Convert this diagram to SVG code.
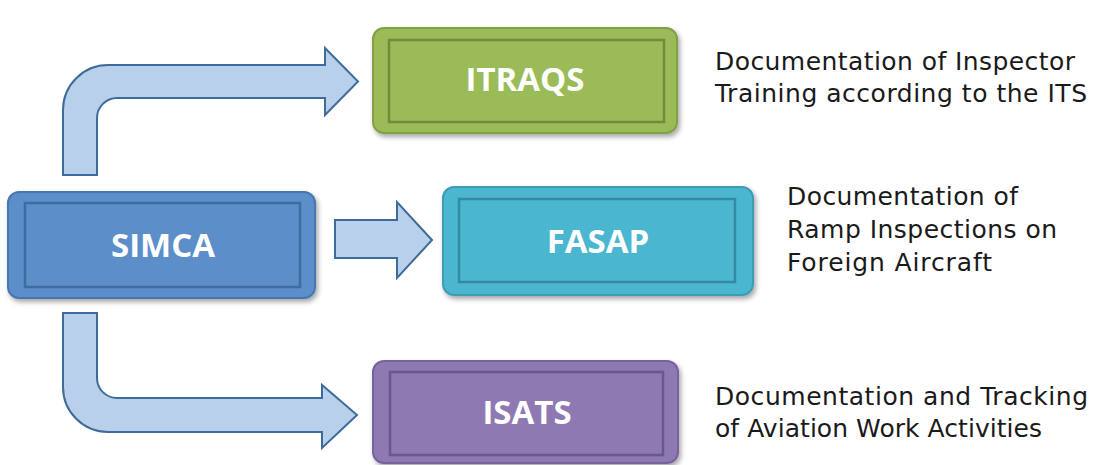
<svg xmlns="http://www.w3.org/2000/svg" width="1099" height="465" viewBox="0 0 1099 465">
  <defs>
    <filter id="shadow" x="-10%" y="-10%" width="125%" height="130%">
      <feDropShadow dx="2" dy="3" stdDeviation="2.5" flood-color="#000" flood-opacity="0.35"/>
    </filter>
    <style>
      .arrow { fill: #b8d0ea; stroke: #3f6b9c; stroke-width: 2; stroke-linejoin: miter; }
      .outer { stroke-width: 2; filter: url(#shadow); }
      .inner { fill: none; stroke-width: 2.5; }
      .label { font-family: "Open Sans", "Noto Sans", sans-serif; font-weight: bold; font-size: 33px; fill: #ffffff; text-anchor: middle; }
      .desc { font-family: "DejaVu Sans", Verdana, sans-serif; font-size: 25px; fill: #1a1a1a; }
    </style>
  </defs>
  <rect width="1099" height="465" fill="#ffffff"/>

  <g id="connectors">
    <path class="arrow" d="M63,175 V110 A45,45 0 0 1 108,65 H325 V48 L358,81.5 L325,115 V98 H117 A20,20 0 0 0 97,118 V175 Z"/>
    <path class="arrow" d="M335,220 H397 V202 L432,240 L397,278 V258 H335 Z"/>
    <path class="arrow" d="M63,313 V387 A45,45 0 0 0 108,432 H322 V448 L357,415 L322,385 V398 H117 A20,20 0 0 1 97,378 V313 Z"/>
  </g>

  <g id="simca">
    <rect class="outer" x="8" y="192" width="307" height="106" rx="11" fill="#5b8fc9" stroke="#4677b0"/>
    <rect class="inner" x="25" y="203" width="275" height="84" stroke="#3f6c9f"/>
    <text class="label" x="163" y="257">SIMCA</text>
  </g>

  <g id="itraqs">
    <rect class="outer" x="373" y="28" width="304" height="105" rx="11" fill="#9bbb59" stroke="#82a045"/>
    <rect class="inner" x="389" y="40" width="275" height="82" stroke="#6f8c3a"/>
    <text class="label" x="525" y="91">ITRAQS</text>
    <text class="desc" x="715" y="70" textLength="360">Documentation of Inspector</text>
    <text class="desc" x="715" y="102" textLength="372">Training according to the ITS</text>
  </g>

  <g id="fasap">
    <rect class="outer" x="443" y="187" width="310" height="108" rx="11" fill="#4bb6cf" stroke="#3c9db4"/>
    <rect class="inner" x="459" y="199" width="276" height="83" stroke="#348aa0"/>
    <text class="label" x="598" y="253">FASAP</text>
    <text class="desc" x="787" y="205" textLength="231">Documentation of</text>
    <text class="desc" x="787" y="238" textLength="270">Ramp Inspections on</text>
    <text class="desc" x="787" y="271" textLength="205">Foreign Aircraft</text>
  </g>

  <g id="isats">
    <rect class="outer" x="373" y="361" width="305" height="102" rx="11" fill="#8e79b3" stroke="#77639c"/>
    <rect class="inner" x="390" y="372" width="273" height="83" stroke="#6a5690"/>
    <text class="label" x="527" y="424">ISATS</text>
    <text class="desc" x="715" y="405" textLength="373">Documentation and Tracking</text>
    <text class="desc" x="715" y="437" textLength="327">of Aviation Work Activities</text>
  </g>
</svg>
